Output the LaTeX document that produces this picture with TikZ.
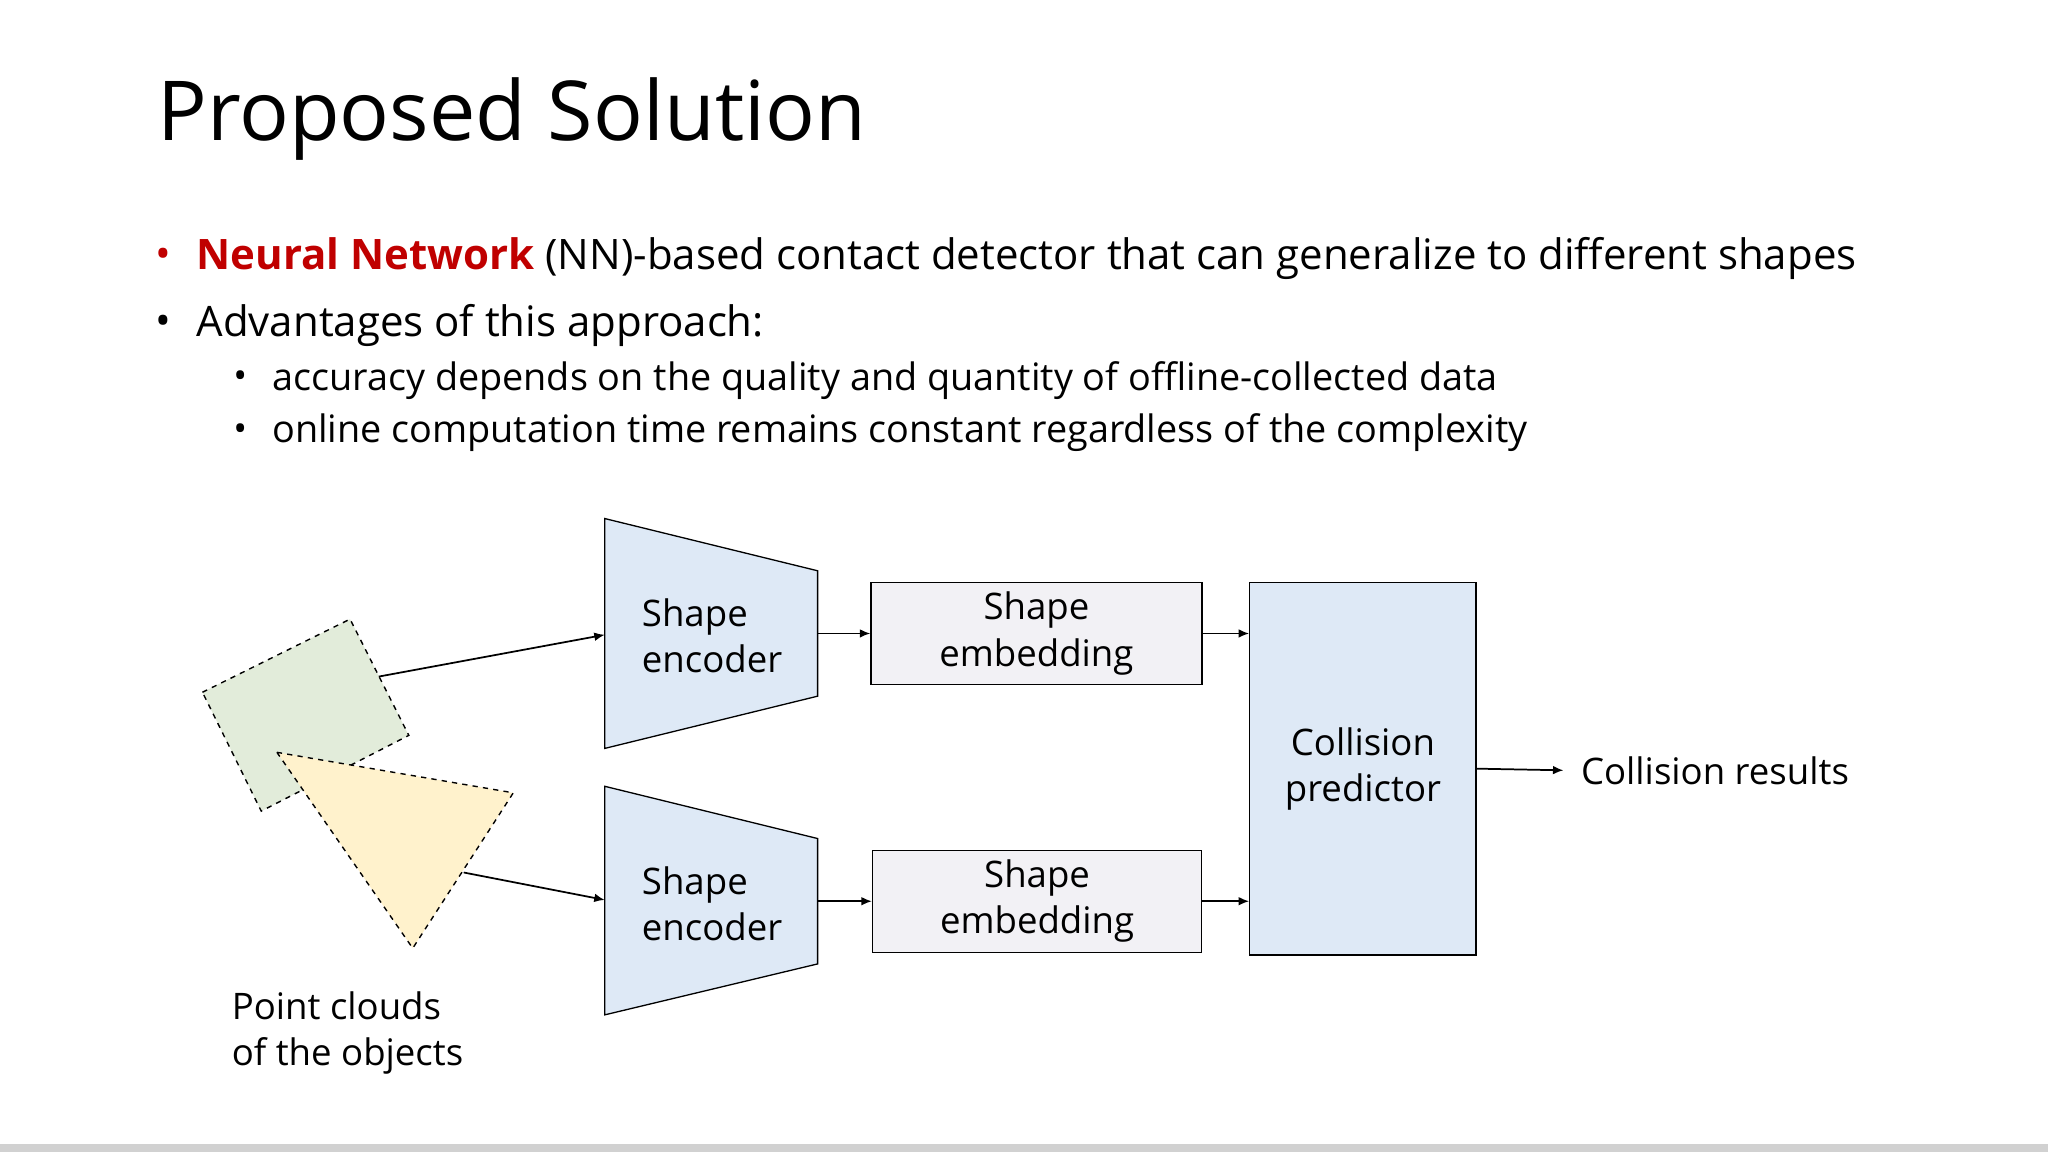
\documentclass[tikz,border=0pt]{standalone}
\usepackage{fontspec}
\setmainfont{Open Sans}
\usetikzlibrary{arrows.meta}
\definecolor{encblue}{RGB}{222,233,246}
\definecolor{embgrey}{RGB}{242,241,245}
\definecolor{ptgreen}{RGB}{226,236,218}
\definecolor{ptyellow}{RGB}{255,242,204}
\definecolor{nnred}{RGB}{192,0,0}
\tikzset{every picture/.style={line width=0.75pt}}
\tikzset{
  flow/.style={-{Latex[length=6pt,width=5pt]},line width=1pt},
  boxtxt/.style={font=\fontsize{21}{26.5}\selectfont,align=center,inner sep=0.75pt},
  ptcloud/.style={dashed,line width=0.8pt},
}

\begin{document}
\begin{tikzpicture}[x=0.75pt,y=0.75pt,yscale=-1,xscale=1]
            \useasboundingbox (0,0) rectangle (1568,882);
            \fill[white] (0,0) rectangle (1568,882);
            \fill[black!18] (0,876) rectangle (1568,882);

            % Title
            \node (title) at (120,91) [anchor=west,inner sep=0pt,font=\fontsize{47.5}{56}\selectfont] {Proposed Solution};
            % Bullets
            \node (b1) at (150,198) [anchor=west,inner sep=0pt,font=\fontsize{24.1}{29}\selectfont] {\textcolor{nnred}{\textbf{Neural Network}} (NN)-based contact detector that can generalize to different shapes};
            \node at (125,198) [inner sep=0pt,text=nnred,font=\fontsize{24}{29}\selectfont] {•};
            \node (b2) at (150,249) [anchor=west,inner sep=0pt,font=\fontsize{24.1}{29}\selectfont] {Advantages of this approach:};
            \node at (125,249) [inner sep=0pt,font=\fontsize{24}{29}\selectfont] {•};
            \node (s1) at (208,291) [anchor=west,inner sep=0pt,font=\fontsize{21.7}{25}\selectfont] {accuracy depends on the quality and quantity of offline-collected data};
            \node at (184,291) [inner sep=0pt,font=\fontsize{21}{25}\selectfont] {•};
            \node (s2) at (208,331) [anchor=west,inner sep=0pt,font=\fontsize{21.7}{25}\selectfont] {online computation time remains constant regardless of the complexity};
            \node at (184,331) [inner sep=0pt,font=\fontsize{21}{25}\selectfont] {•};

            % Point clouds
            \draw [ptcloud,fill=ptgreen] (155,530) -- (268,474) -- (313,563) -- (200,621) -- cycle;
            \draw [ptcloud,fill=ptyellow] (212,576) -- (393,607) -- (316,726) -- cycle;
            \coordinate (sq) at (290,518);
            \coordinate (tri) at (355,668);
            \node (pcl) at (176,791) [anchor=west,boxtxt,align=left] {Point clouds\\of the objects};

            % Encoders
            \draw [fill=encblue] (463,397) -- (626,437) -- (626,533) -- (463,573) -- cycle;
            \draw [fill=encblue] (463,602) -- (626,642) -- (626,738) -- (463,777) -- cycle;
            \node (enc1) at (490,487) [anchor=west,boxtxt,align=left] {Shape\\encoder};
            \node (enc2) at (490,692) [anchor=west,boxtxt,align=left] {Shape\\encoder};
            \coordinate (enc1in) at (463,486);
            \coordinate (enc1out) at (626,485);
            \coordinate (enc2in) at (463,689);
            \coordinate (enc2out) at (626,690);

            % Embeddings
            \node (emb1) at (793.5,485) [draw,fill=embgrey,minimum width=190pt,minimum height=58.5pt,boxtxt] {Shape\\embedding};
            \node (emb2) at (794,690) [draw,fill=embgrey,minimum width=189pt,minimum height=58.5pt,boxtxt] {Shape\\embedding};

            % Predictor
            \node (pred) at (1043.5,588.5) [draw,fill=encblue,minimum width=130pt,minimum height=214pt,boxtxt] {Collision\\predictor};
            \node (res) at (1209,590) [anchor=west,boxtxt] {Collision results};

            % Connectors
            \draw [flow] (sq) -- (enc1in);
            \draw [flow] (tri) -- (enc2in);
            \draw [flow] (enc1out) -- (emb1.west);
            \draw [flow] (enc2out) -- (emb2.west);
            \draw [flow] (emb1.east) -- (pred.west |- emb1.east);
            \draw [flow] (emb2.east) -- (pred.west |- emb2.east);
            \draw [flow,shorten >=9pt] (pred.east) -- (res.west);
\end{tikzpicture}
\end{document}
